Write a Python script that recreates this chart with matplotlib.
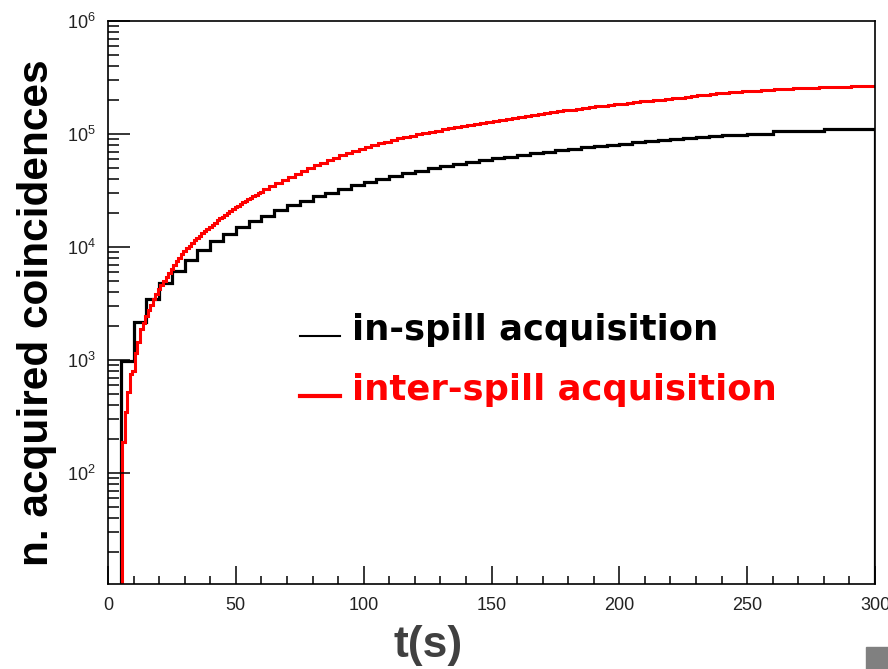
import numpy as np
import matplotlib
matplotlib.use("Agg")
import matplotlib.pyplot as plt
from matplotlib.patches import Rectangle
from matplotlib.lines import Line2D
from matplotlib.ticker import LogLocator, MultipleLocator, NullFormatter

# in-spill: cumulative coincidences, 5 s bins from t = 5 s
black_edges = np.arange(5, 301, 5)
black_counts = [
    980, 2180, 3450, 4800, 6200, 7700, 9400, 11400, 13000, 15100,
    17100, 18900, 21200, 23500, 25800, 28200, 30300, 32800, 35300, 37800,
    40200, 42600, 45000, 47400, 49800, 52000, 54300, 56600, 58900, 61100,
    63300, 65500, 67700, 69900, 72100, 74200, 76300, 78400, 80500, 82500,
    84500, 86500, 88400, 90300, 92100, 93500, 95800, 98000, 98000, 101000,
    101000, 105500, 105500, 105500, 105500, 110000, 110000, 110000, 110000,
]

# inter-spill: 1 s bins up to 60.5 s, then 2.5 s bins
red_edges = np.concatenate([np.arange(5.5, 60.6, 1.0), np.arange(63, 300.6, 2.5)])
red_counts = [
    190, 350, 520, 760, 800, 1170, 1450, 1880, 2150, 2450,
    2800, 3100, 3450, 3850, 4250, 4650, 5050, 5450, 5900, 6400,
    6950, 7500, 8050, 8650, 9300, 9800, 10340, 10900, 11500, 12050,
    12630, 13240, 13870, 14530, 15210, 15850, 16520, 17220, 17940, 18650,
    19370, 20120, 20890, 21700, 22440, 23210, 24000, 24830, 25680, 26540,
    27370, 28230, 29110, 30030, 30920,
    32500, 34800, 37100, 39400, 42000, 44600, 47500, 50300,
    52900, 55700, 58600, 61700, 64800, 67700, 70600, 73700, 77000, 80300,
    83000, 85800, 88600, 91600, 94700, 97100, 99600, 102000, 104600, 107200,
    109800, 112400, 115100, 117800, 120600, 123300, 125900, 128500, 131200, 134000,
    136800, 139600, 142400, 145300, 148300, 151300, 153900, 156500, 159200, 161900,
    164700, 167300, 170000, 172700, 175400, 178200, 180800, 183500, 186100, 188900,
    191600, 194200, 196700, 199100, 201700, 204200, 206900, 210000, 213200, 216400,
    219700, 223000, 225800, 228500, 231200, 233900, 236600, 238900, 240800, 242800,
    244700, 246600, 248500, 250200, 251900, 253700, 255400, 257100, 258100, 259000,
    260000, 260900, 261900, 263100, 264400, 265600, 266900, 268000,
]

labels = ["in-spill acquisition", "inter-spill acquisition"]
colors = ["black", "#ff0000"]

fig = plt.figure(figsize=(8.88, 6.69), dpi=100)
ax = fig.add_axes([108/888, 1 - 584/669, 767/888, 563/669])

ax.stairs(black_counts, black_edges, baseline=0.1, color=colors[0], lw=2.3)
ax.stairs(red_counts, red_edges, baseline=0.1, color=colors[1], lw=2.2)

ax.set_yscale("log")
ax.set_xlim(0, 300)
ax.set_ylim(10.5, 1e6)

ax.xaxis.set_major_locator(MultipleLocator(50))
ax.xaxis.set_minor_locator(MultipleLocator(10))
ax.yaxis.set_major_locator(LogLocator(base=10, numticks=10))
ax.yaxis.set_minor_locator(LogLocator(base=10, subs=np.arange(2, 10), numticks=20))
ax.yaxis.set_minor_formatter(NullFormatter())

tick_font = "Liberation Sans"
ax.tick_params(axis="both", which="both", direction="in", top=False, right=False,
               width=1.1, colors="black")
ax.tick_params(axis="x", which="major", length=13, pad=9)
ax.tick_params(axis="x", which="minor", length=6)
ax.tick_params(axis="y", which="major", length=16, pad=9)
ax.tick_params(axis="y", which="minor", length=8)
for lab in ax.get_xticklabels() + ax.get_yticklabels():
    lab.set_fontfamily(tick_font)
    lab.set_fontsize(13)
    lab.set_color("#222222")
for sp in ax.spines.values():
    sp.set_linewidth(1.2)

fig.text(37/888, 1 - 313/669, "n. acquired coincidences", rotation=90,
         ha="center", va="center", fontsize=30.5, fontweight="bold",
         family="Liberation Sans")
fig.text(428/888, 1 - 646/669, "t(s)", ha="center", va="center",
         fontsize=32, fontweight="bold", family="Liberation Sans", color="#404040")

# legend drawn as free text like the original slide
for i, (lab, col) in enumerate(zip(labels, colors)):
    y = 1 - (330 + i * 60) / 669
    fig.add_artist(Line2D([300/888, 340/888], [y - 0.009, y - 0.009],
                          color=col, lw=1.5 if i == 0 else 3.0,
                          transform=fig.transFigure))
    fig.text(352/888, y, lab, ha="left", va="center", fontsize=25.5,
             fontweight="bold", family="DejaVu Sans", color=col)

fig.add_artist(Rectangle((866/888, 0), 22/888, 22/669, color="#808080",
                         transform=fig.transFigure))

fig.savefig("out.png", dpi=100)
